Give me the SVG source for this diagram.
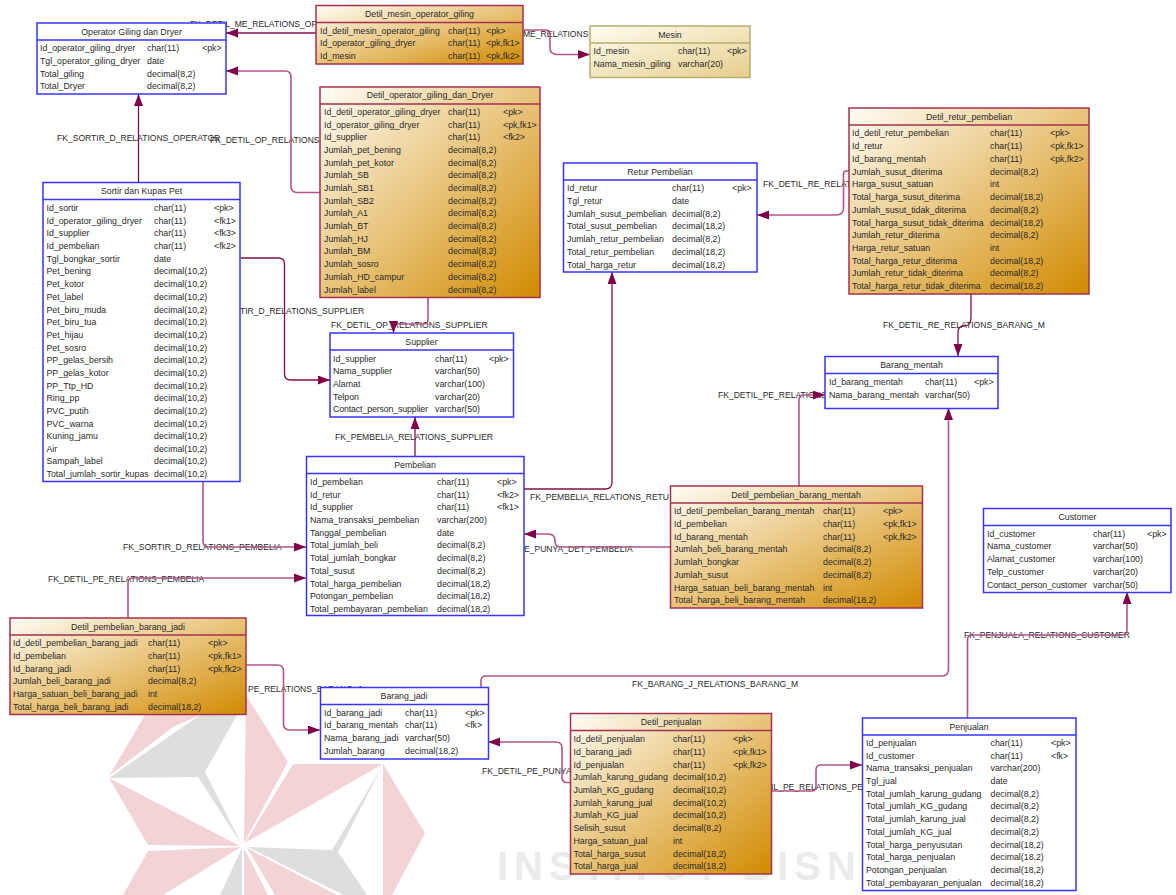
<svg xmlns="http://www.w3.org/2000/svg" width="1176" height="895" viewBox="0 0 1176 895">
<style>
text{font-family:"Liberation Sans",Arial,sans-serif;font-size:8.8px;fill:#2a2a2a}
#labels text{font-size:8.55px}
.t{text-anchor:middle}
.b{fill:#fff;stroke:#3535ff;stroke-width:1.5}
.d{fill:url(#gd);stroke:#a5304f;stroke-width:1.5}
.m{fill:url(#gm);stroke:#b4b070;stroke-width:1.5}
.hb{stroke:#3535ff;stroke-width:1.5}
.hd{stroke:#a5304f;stroke-width:1.5}
.hm{stroke:#b4b070;stroke-width:1.5}
.c{fill:none;stroke:#80104c;stroke-width:1.3;marker-end:url(#a)}
.l{fill:none;stroke:#b0568a;stroke-width:1.6;marker-end:url(#a)}
.p{fill:#f2d4d7}
.g{fill:#dedede}
.w{font-size:40px;font-weight:bold;letter-spacing:6px;fill:#ebebeb}
</style>
<defs>
<linearGradient id="gd" x1="0" y1="0" x2="1" y2="1"><stop offset="0" stop-color="#fffdf6"/><stop offset="1" stop-color="#d18a00"/></linearGradient>
<linearGradient id="gm" x1="0" y1="0" x2="1" y2="1"><stop offset="0" stop-color="#fffdf0"/><stop offset="1" stop-color="#e6cd8c"/></linearGradient>
<marker id="a" markerUnits="userSpaceOnUse" markerWidth="14" markerHeight="10" refX="12" refY="4.5" orient="auto"><path d="M0,0L12,4.5L0,9z" fill="#80004a"/></marker>
</defs>
<g id="watermark">
<polygon class="p" points="244,843 246,695 288,762"/>
<polygon class="p" points="240,846 109,778 148,845"/>
<polygon class="p" points="109,776 145,715 200,715 173,727"/>
<polygon class="g" points="109,778 200,715 237,715 205,772 242,845 198,777"/>
<polygon class="p" points="245,843 293,764 383,764"/>
<polygon class="p" points="383,764 425,833 392,895 383,895"/>
<polygon class="p" points="148,851 241,847 163,895 123,895"/>
<polygon class="g" points="242,848 242,895 220,895"/>
<polygon class="p" points="244,848 268,895 244,895"/>
<polygon class="p" points="247,848 337,895 275,895"/>
<polygon class="g" points="248,847 332,850 383,765 338,852 367,895 343,895"/>
<text class="w" x="497" y="880">INSTITUT BISNIS</text>
</g>
<g id="labels">
<text x="190" y="27">FK_DETIL_ME_RELATIONS_OP</text>
<text x="523" y="37">ME_RELATIONS</text>
<text x="57" y="141">FK_SORTIR_D_RELATIONS_OPERATOR</text>
<text x="210" y="143">FK_DETIL_OP_RELATIONS</text>
<text x="763" y="187">FK_DETIL_RE_RELAT</text>
<text x="240" y="314">TIR_D_RELATIONS_SUPPLIER</text>
<text x="331" y="328">FK_DETIL_OP_RELATIONS_SUPPLIER</text>
<text x="883" y="328">FK_DETIL_RE_RELATIONS_BARANG_M</text>
<text x="718" y="398">FK_DETIL_PE_RELATIONS</text>
<text x="335" y="440">FK_PEMBELIA_RELATIONS_SUPPLIER</text>
<text x="530" y="500">FK_PEMBELIA_RELATIONS_RETU</text>
<text x="123" y="550">FK_SORTIR_D_RELATIONS_PEMBELIA</text>
<text x="524" y="552">E_PUNYA_DET_PEMBELIA</text>
<text x="48" y="582">FK_DETIL_PE_RELATIONS_PEMBELIA</text>
<text x="964" y="638">FK_PENJUALA_RELATIONS_CUSTOMER</text>
<text x="632" y="687">FK_BARANG_J_RELATIONS_BARANG_M</text>
<text x="248" y="692">PE_RELATIONS_BARANG_J</text>
<text x="482" y="774">FK_DETIL_PE_PUNYA</text>
<text x="771" y="790">IL_PE_RELATIONS_PE</text>
</g>
<g id="connectors">
<path class="c" d="M316,33H226"/>
<path class="l" d="M523,30H546Q550,30 550,34V48Q550,54.500 557,54.500H590"/>
<path class="c" d="M138.500,182V94"/>
<path class="l" d="M320,192.500H297Q291,192.500 291,186V77Q291,71 285,71H226"/>
<path class="c" d="M241,258H278Q284.500,258 284.500,264V374Q284.500,380 291,380H330"/>
<path class="l" d="M428,298V320Q428,324 424,324H397Q393.500,324 393.500,328V333"/>
<path class="l" d="M849,171H846Q843.500,171 843.500,174V208Q843.500,215 836,215H757"/>
<path class="c" d="M971,294V318Q971,326 964,326Q958,326 958,332V356"/>
<path class="c" d="M415,456V417"/>
<path class="c" d="M524,489H605Q612,489 612,482V272"/>
<path class="l" d="M799,486V400Q799,395 804,395H825"/>
<path class="l" d="M670,547H560Q555,547 555,541Q555,534 548,534H524"/>
<path class="l" d="M203,482V541Q203,547 209,547H306"/>
<path class="l" d="M128,618V583Q128,578 133,578H306"/>
<path class="l" d="M246,665H277Q283.500,665 283.500,671V724Q283.500,730 290,730H320"/>
<path class="l" d="M481,687V681Q481,676 486,676H942Q948.500,676 948.500,669V408"/>
<path class="l" d="M967.500,718V640Q967.500,635 972,635H1122Q1127,635 1127,630V592"/>
<path class="l" d="M570,782.500H567Q562,782.500 562,777V748Q562,742 556,742H488"/>
<path class="l" d="M771,791H812Q816,791 816,786V770Q816,765 821,765H862"/>
</g>
<g id="operator_giling_dan_dryer">
<rect class="b" x="37" y="23" width="189" height="71"/><line class="hb" x1="37" y1="40" x2="226" y2="40"/>
<text class="t" x="131.500" y="35">Operator Giling dan Dryer</text>
<text x="40" y="51">Id_operator_giling_dryer</text><text x="147" y="51">char(11)</text><text x="202" y="51">&lt;pk&gt;</text>
<text x="40" y="64">Tgl_operator_giling_dryer</text><text x="147" y="64">date</text>
<text x="40" y="77">Total_giling</text><text x="147" y="77">decimal(8,2)</text>
<text x="40" y="89">Total_Dryer</text><text x="147" y="89">decimal(8,2)</text>
</g>
<g id="detil_mesin_operator_giling">
<rect class="d" x="316" y="5.500" width="207" height="58.500"/><line class="hd" x1="316" y1="22.500" x2="523" y2="22.500"/>
<text class="t" x="419.500" y="17">Detil_mesin_operator_giling</text>
<text x="320" y="34">Id_detil_mesin_operator_giling</text><text x="448" y="34">char(11)</text><text x="486" y="34">&lt;pk&gt;</text>
<text x="320" y="46">Id_operator_giling_dryer</text><text x="448" y="46">char(11)</text><text x="486" y="46">&lt;pk,fk1&gt;</text>
<text x="320" y="59">Id_mesin</text><text x="448" y="59">char(11)</text><text x="486" y="59">&lt;pk,fk2&gt;</text>
</g>
<g id="mesin">
<rect class="m" x="590" y="26" width="160" height="51.500"/><line class="hm" x1="590" y1="43" x2="750" y2="43"/>
<text class="t" x="670" y="38">Mesin</text>
<text x="593.500" y="54">Id_mesin</text><text x="678" y="54">char(11)</text><text x="727" y="54">&lt;pk&gt;</text>
<text x="593.500" y="67">Nama_mesin_giling</text><text x="678" y="67">varchar(20)</text>
</g>
<g id="detil_operator_giling_dan_dryer">
<rect class="d" x="320" y="87" width="220" height="210.500"/><line class="hd" x1="320" y1="104" x2="540" y2="104"/>
<text class="t" x="430" y="98">Detil_operator_giling_dan_Dryer</text>
<text x="324" y="115">Id_detil_operator_giling_dryer</text><text x="448" y="115">char(11)</text><text x="503" y="115">&lt;pk&gt;</text>
<text x="324" y="128">Id_operator_giling_dryer</text><text x="448" y="128">char(11)</text><text x="503" y="128">&lt;pk,fk1&gt;</text>
<text x="324" y="140">Id_supplier</text><text x="448" y="140">char(11)</text><text x="503" y="140">&lt;fk2&gt;</text>
<text x="324" y="153">Jumlah_pet_bening</text><text x="448" y="153">decimal(8,2)</text>
<text x="324" y="166">Jumlah_pet_kotor</text><text x="448" y="166">decimal(8,2)</text>
<text x="324" y="178">Jumlah_SB</text><text x="448" y="178">decimal(8,2)</text>
<text x="324" y="191">Jumlah_SB1</text><text x="448" y="191">decimal(8,2)</text>
<text x="324" y="204">Jumlah_SB2</text><text x="448" y="204">decimal(8,2)</text>
<text x="324" y="216">Jumlah_A1</text><text x="448" y="216">decimal(8,2)</text>
<text x="324" y="229">Jumlah_BT</text><text x="448" y="229">decimal(8,2)</text>
<text x="324" y="242">Jumlah_HJ</text><text x="448" y="242">decimal(8,2)</text>
<text x="324" y="254">Jumlah_BM</text><text x="448" y="254">decimal(8,2)</text>
<text x="324" y="267">Jumlah_sosro</text><text x="448" y="267">decimal(8,2)</text>
<text x="324" y="280">Jumlah_HD_campur</text><text x="448" y="280">decimal(8,2)</text>
<text x="324" y="293">Jumlah_label</text><text x="448" y="293">decimal(8,2)</text>
</g>
<g id="sortir_dan_kupas_pet">
<rect class="b" x="43" y="182.500" width="197" height="299"/><line class="hb" x1="43" y1="199.500" x2="240" y2="199.500"/>
<text class="t" x="141.500" y="194">Sortir dan Kupas Pet</text>
<text x="46.500" y="211">Id_sortir</text><text x="154" y="211">char(11)</text><text x="214" y="211">&lt;pk&gt;</text>
<text x="46.500" y="224">Id_operator_giling_dryer</text><text x="154" y="224">char(11)</text><text x="214" y="224">&lt;fk1&gt;</text>
<text x="46.500" y="236">Id_supplier</text><text x="154" y="236">char(11)</text><text x="214" y="236">&lt;fk3&gt;</text>
<text x="46.500" y="249">Id_pembelian</text><text x="154" y="249">char(11)</text><text x="214" y="249">&lt;fk2&gt;</text>
<text x="46.500" y="262">Tgl_bongkar_sortir</text><text x="154" y="262">date</text>
<text x="46.500" y="274">Pet_bening</text><text x="154" y="274">decimal(10,2)</text>
<text x="46.500" y="287">Pet_kotor</text><text x="154" y="287">decimal(10,2)</text>
<text x="46.500" y="300">Pet_label</text><text x="154" y="300">decimal(10,2)</text>
<text x="46.500" y="313">Pet_biru_muda</text><text x="154" y="313">decimal(10,2)</text>
<text x="46.500" y="325">Pet_biru_tua</text><text x="154" y="325">decimal(10,2)</text>
<text x="46.500" y="338">Pet_hijau</text><text x="154" y="338">decimal(10,2)</text>
<text x="46.500" y="351">Pet_sosro</text><text x="154" y="351">decimal(10,2)</text>
<text x="46.500" y="363">PP_gelas_bersih</text><text x="154" y="363">decimal(10,2)</text>
<text x="46.500" y="376">PP_gelas_kotor</text><text x="154" y="376">decimal(10,2)</text>
<text x="46.500" y="389">PP_Ttp_HD</text><text x="154" y="389">decimal(10,2)</text>
<text x="46.500" y="401">Ring_pp</text><text x="154" y="401">decimal(10,2)</text>
<text x="46.500" y="414">PVC_putih</text><text x="154" y="414">decimal(10,2)</text>
<text x="46.500" y="427">PVC_warna</text><text x="154" y="427">decimal(10,2)</text>
<text x="46.500" y="439">Kuning_jamu</text><text x="154" y="439">decimal(10,2)</text>
<text x="46.500" y="452">Air</text><text x="154" y="452">decimal(10,2)</text>
<text x="46.500" y="464">Sampah_label</text><text x="154" y="464">decimal(10,2)</text>
<text x="46.500" y="477">Total_jumlah_sortir_kupas</text><text x="154" y="477">decimal(10,2)</text>
</g>
<g id="retur_pembelian">
<rect class="b" x="563.500" y="163" width="193.500" height="109"/><line class="hb" x1="563.500" y1="180" x2="757" y2="180"/>
<text class="t" x="660" y="175">Retur Pembelian</text>
<text x="567" y="191">Id_retur</text><text x="672" y="191">char(11)</text><text x="732" y="191">&lt;pk&gt;</text>
<text x="567" y="204">Tgl_retur</text><text x="672" y="204">date</text>
<text x="567" y="217">Jumlah_susut_pembelian</text><text x="672" y="217">decimal(8,2)</text>
<text x="567" y="229">Total_susut_pembelian</text><text x="672" y="229">decimal(18,2)</text>
<text x="567" y="242">Jumlah_retur_pembelian</text><text x="672" y="242">decimal(8,2)</text>
<text x="567" y="255">Total_retur_pembelian</text><text x="672" y="255">decimal(18,2)</text>
<text x="567" y="268">Total_harga_retur</text><text x="672" y="268">decimal(18,2)</text>
</g>
<g id="detil_retur_pembelian">
<rect class="d" x="849" y="108" width="240" height="186"/><line class="hd" x1="849" y1="125" x2="1089" y2="125"/>
<text class="t" x="969" y="120">Detil_retur_pembelian</text>
<text x="852" y="136">Id_detil_retur_pembelian</text><text x="990" y="136">char(11)</text><text x="1050" y="136">&lt;pk&gt;</text>
<text x="852" y="149">Id_retur</text><text x="990" y="149">char(11)</text><text x="1050" y="149">&lt;pk,fk1&gt;</text>
<text x="852" y="162">Id_barang_mentah</text><text x="990" y="162">char(11)</text><text x="1050" y="162">&lt;pk,fk2&gt;</text>
<text x="852" y="175">Jumlah_susut_diterima</text><text x="990" y="175">decimal(8,2)</text>
<text x="852" y="187">Harga_susut_satuan</text><text x="990" y="187">int</text>
<text x="852" y="200">Total_harga_susut_diterima</text><text x="990" y="200">decimal(18,2)</text>
<text x="852" y="213">Jumlah_susut_tidak_diterima</text><text x="990" y="213">decimal(8,2)</text>
<text x="852" y="226">Total_harga_susut_tidak_diterima</text><text x="990" y="226">decimal(18,2)</text>
<text x="852" y="238">Jumlah_retur_diterima</text><text x="990" y="238">decimal(8,2)</text>
<text x="852" y="251">Harga_retur_satuan</text><text x="990" y="251">int</text>
<text x="852" y="264">Total_harga_retur_diterima</text><text x="990" y="264">decimal(18,2)</text>
<text x="852" y="276">Jumlah_retur_tidak_diterima</text><text x="990" y="276">decimal(8,2)</text>
<text x="852" y="289">Total_harga_retur_tidak_diterima</text><text x="990" y="289">decimal(18,2)</text>
</g>
<g id="supplier">
<rect class="b" x="330" y="333" width="183.500" height="84"/><line class="hb" x1="330" y1="350" x2="513.500" y2="350"/>
<text class="t" x="421.500" y="345">Supplier</text>
<text x="333" y="362">Id_supplier</text><text x="435" y="362">char(11)</text><text x="489" y="362">&lt;pk&gt;</text>
<text x="333" y="374">Nama_supplier</text><text x="435" y="374">varchar(50)</text>
<text x="333" y="387">Alamat</text><text x="435" y="387">varchar(100)</text>
<text x="333" y="400">Telpon</text><text x="435" y="400">varchar(20)</text>
<text x="333" y="412" textLength="95">Contact_person_supplier</text><text x="435" y="412">varchar(50)</text>
</g>
<g id="barang_mentah">
<rect class="b" x="825" y="356.500" width="173" height="52"/><line class="hb" x1="825" y1="373.500" x2="998" y2="373.500"/>
<text class="t" x="911.500" y="368">Barang_mentah</text>
<text x="829" y="385">Id_barang_mentah</text><text x="925" y="385">char(11)</text><text x="974" y="385">&lt;pk&gt;</text>
<text x="829" y="398">Nama_barang_mentah</text><text x="925" y="398">varchar(50)</text>
</g>
<g id="pembelian">
<rect class="b" x="306.500" y="456.500" width="217.500" height="159"/><line class="hb" x1="306.500" y1="473.500" x2="524" y2="473.500"/>
<text class="t" x="415" y="468">Pembelian</text>
<text x="310" y="485">Id_pembelian</text><text x="437" y="485">char(11)</text><text x="497" y="485">&lt;pk&gt;</text>
<text x="310" y="498">Id_retur</text><text x="437" y="498">char(11)</text><text x="497" y="498">&lt;fk2&gt;</text>
<text x="310" y="510">Id_supplier</text><text x="437" y="510">char(11)</text><text x="497" y="510">&lt;fk1&gt;</text>
<text x="310" y="523">Nama_transaksi_pembelian</text><text x="437" y="523">varchar(200)</text>
<text x="310" y="536">Tanggal_pembelian</text><text x="437" y="536">date</text>
<text x="310" y="548">Total_jumlah_beli</text><text x="437" y="548">decimal(8,2)</text>
<text x="310" y="561">Total_jumlah_bongkar</text><text x="437" y="561">decimal(8,2)</text>
<text x="310" y="574">Total_susut</text><text x="437" y="574">decimal(8,2)</text>
<text x="310" y="587">Total_harga_pembelian</text><text x="437" y="587">decimal(18,2)</text>
<text x="310" y="599">Potongan_pembelian</text><text x="437" y="599">decimal(18,2)</text>
<text x="310" y="612">Total_pembayaran_pembelian</text><text x="437" y="612">decimal(18,2)</text>
</g>
<g id="detil_pembelian_barang_mentah">
<rect class="d" x="670.500" y="486" width="252" height="122"/><line class="hd" x1="670.500" y1="503" x2="922.500" y2="503"/>
<text class="t" x="796" y="498">Detil_pembelian_barang_mentah</text>
<text x="674" y="514">Id_detil_pembelian_barang_mentah</text><text x="823" y="514">char(11)</text><text x="883" y="514">&lt;pk&gt;</text>
<text x="674" y="527">Id_pembelian</text><text x="823" y="527">char(11)</text><text x="883" y="527">&lt;pk,fk1&gt;</text>
<text x="674" y="540">Id_barang_mentah</text><text x="823" y="540">char(11)</text><text x="883" y="540">&lt;pk,fk2&gt;</text>
<text x="674" y="552">Jumlah_beli_barang_mentah</text><text x="823" y="552">decimal(8,2)</text>
<text x="674" y="565">Jumlah_bongkar</text><text x="823" y="565">decimal(8,2)</text>
<text x="674" y="578">Jumlah_susut</text><text x="823" y="578">decimal(8,2)</text>
<text x="674" y="591">Harga_satuan_beli_barang_mentah</text><text x="823" y="591">int</text>
<text x="674" y="603">Total_harga_beli_barang_mentah</text><text x="823" y="603">decimal(18,2)</text>
</g>
<g id="customer">
<rect class="b" x="983.500" y="508.500" width="187.500" height="84"/><line class="hb" x1="983.500" y1="525.500" x2="1171" y2="525.500"/>
<text class="t" x="1077.500" y="520">Customer</text>
<text x="987" y="537">Id_customer</text><text x="1093" y="537">char(11)</text><text x="1147" y="537">&lt;pk&gt;</text>
<text x="987" y="549">Nama_customer</text><text x="1093" y="549">varchar(50)</text>
<text x="987" y="562">Alamat_customer</text><text x="1093" y="562">varchar(100)</text>
<text x="987" y="575">Telp_customer</text><text x="1093" y="575">varchar(20)</text>
<text x="987" y="588" textLength="100">Contact_person_customer</text><text x="1093" y="588">varchar(50)</text>
</g>
<g id="detil_pembelian_barang_jadi">
<rect class="d" x="10" y="618" width="236" height="96.500"/><line class="hd" x1="10" y1="635" x2="246" y2="635"/>
<text class="t" x="128" y="630">Detil_pembelian_barang_jadi</text>
<text x="13" y="646">Id_detil_pembelian_barang_jadi</text><text x="148" y="646">char(11)</text><text x="208" y="646">&lt;pk&gt;</text>
<text x="13" y="659">Id_pembelian</text><text x="148" y="659">char(11)</text><text x="208" y="659">&lt;pk,fk1&gt;</text>
<text x="13" y="672">Id_barang_jadi</text><text x="148" y="672">char(11)</text><text x="208" y="672">&lt;pk,fk2&gt;</text>
<text x="13" y="684">Jumlah_beli_barang_jadi</text><text x="148" y="684">decimal(8,2)</text>
<text x="13" y="697">Harga_satuan_beli_barang_jadi</text><text x="148" y="697">int</text>
<text x="13" y="710">Total_harga_beli_barang_jadi</text><text x="148" y="710">decimal(18,2)</text>
</g>
<g id="barang_jadi">
<rect class="b" x="320.500" y="687.500" width="168" height="71.500"/><line class="hb" x1="320.500" y1="704.500" x2="488.500" y2="704.500"/>
<text class="t" x="404" y="699">Barang_jadi</text>
<text x="324" y="716">Id_barang_jadi</text><text x="405" y="716">char(11)</text><text x="465" y="716">&lt;pk&gt;</text>
<text x="324" y="728">Id_barang_mentah</text><text x="405" y="728">char(11)</text><text x="465" y="728">&lt;fk&gt;</text>
<text x="324" y="741">Nama_barang_jadi</text><text x="405" y="741">varchar(50)</text>
<text x="324" y="754">Jumlah_barang</text><text x="405" y="754">decimal(18,2)</text>
</g>
<g id="detil_penjualan">
<rect class="d" x="570.500" y="713.500" width="201" height="160.500"/><line class="hd" x1="570.500" y1="730.500" x2="771.500" y2="730.500"/>
<text class="t" x="671" y="725">Detil_penjualan</text>
<text x="573.500" y="742">Id_detil_penjualan</text><text x="673" y="742">char(11)</text><text x="733" y="742">&lt;pk&gt;</text>
<text x="573.500" y="755">Id_barang_jadi</text><text x="673" y="755">char(11)</text><text x="733" y="755">&lt;pk,fk1&gt;</text>
<text x="573.500" y="768">Id_penjualan</text><text x="673" y="768">char(11)</text><text x="733" y="768">&lt;pk,fk2&gt;</text>
<text x="573.500" y="780">Jumlah_karung_gudang</text><text x="673" y="780">decimal(10,2)</text>
<text x="573.500" y="793">Jumlah_KG_gudang</text><text x="673" y="793">decimal(10,2)</text>
<text x="573.500" y="806">Jumlah_karung_jual</text><text x="673" y="806">decimal(10,2)</text>
<text x="573.500" y="818">Jumlah_KG_jual</text><text x="673" y="818">decimal(10,2)</text>
<text x="573.500" y="831">Selisih_susut</text><text x="673" y="831">decimal(8,2)</text>
<text x="573.500" y="844">Harga_satuan_jual</text><text x="673" y="844">int</text>
<text x="573.500" y="857">Total_harga_susut</text><text x="673" y="857">decimal(18,2)</text>
<text x="573.500" y="869">Total_harga_jual</text><text x="673" y="869">decimal(18,2)</text>
</g>
<g id="penjualan">
<rect class="b" x="862.500" y="718" width="213.500" height="172.500"/><line class="hb" x1="862.500" y1="735" x2="1076" y2="735"/>
<text class="t" x="969" y="730">Penjualan</text>
<text x="866" y="746">Id_penjualan</text><text x="990.500" y="746">char(11)</text><text x="1051" y="746">&lt;pk&gt;</text>
<text x="866" y="759">Id_customer</text><text x="990.500" y="759">char(11)</text><text x="1051" y="759">&lt;fk&gt;</text>
<text x="866" y="771">Nama_transaksi_penjualan</text><text x="990.500" y="771">varchar(200)</text>
<text x="866" y="784">Tgl_jual</text><text x="990.500" y="784">date</text>
<text x="866" y="797">Total_jumlah_karung_gudang</text><text x="990.500" y="797">decimal(8,2)</text>
<text x="866" y="809">Total_jumlah_KG_gudang</text><text x="990.500" y="809">decimal(8,2)</text>
<text x="866" y="822">Total_jumlah_karung_jual</text><text x="990.500" y="822">decimal(8,2)</text>
<text x="866" y="835">Total_jumlah_KG_jual</text><text x="990.500" y="835">decimal(8,2)</text>
<text x="866" y="848">Total_harga_penyusutan</text><text x="990.500" y="848">decimal(18,2)</text>
<text x="866" y="860">Total_harga_penjualan</text><text x="990.500" y="860">decimal(18,2)</text>
<text x="866" y="873">Potongan_penjualan</text><text x="990.500" y="873">decimal(18,2)</text>
<text x="866" y="886">Total_pembayaran_penjualan</text><text x="990.500" y="886">decimal(18,2)</text>
</g>
</svg>
